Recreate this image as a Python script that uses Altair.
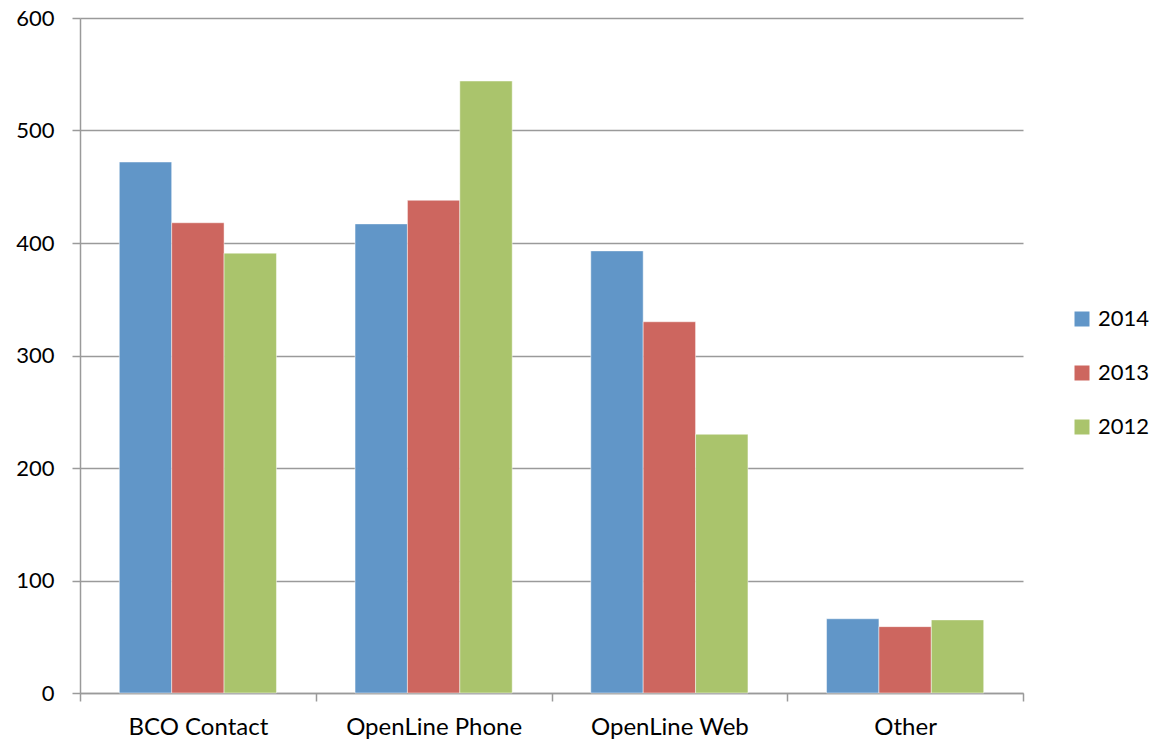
import altair as alt
import pandas as pd

# Request counts by channel and year
channels = ["BCO Contact", "OpenLine Phone", "OpenLine Web", "Other"]
years = ["2014", "2013", "2012"]
values_2014 = [472, 417, 393, 66]
values_2013 = [418, 438, 330, 59]
values_2012 = [391, 544, 230, 65]
y_ticks = [0, 100, 200, 300, 400, 500, 600]
colors = ["#6196C8", "#CD665F", "#AAC46C"]

rows = []
for year, vals in zip(years, [values_2014, values_2013, values_2012]):
    for ch, v in zip(channels, vals):
        rows.append({"channel": ch, "year": year, "count": v})
df = pd.DataFrame(rows)

FONT = "Lato"
GREY = "#9A9A9A"

chart = (
    alt.Chart(df)
    .mark_bar(stroke="white", strokeWidth=0.8, strokeOpacity=0.6)
    .encode(
        x=alt.X(
            "channel:N",
            sort=channels,
            title=None,
            scale=alt.Scale(paddingInner=0, paddingOuter=0),
            axis=alt.Axis(
                labelAngle=0,
                labelFont=FONT,
                labelFontSize=24,
                labelColor="black",
                labelPadding=14,
                domainColor=GREY,
                domainWidth=1.5,
                ticks=True,
                tickColor=GREY,
                tickWidth=1.5,
                tickSize=8,
                tickBand="extent",
                grid=False,
            ),
        ),
        # three bars per group, with a 1.5-bar gap between groups
        xOffset=alt.XOffset(
            "year:N",
            sort=years,
            scale=alt.Scale(paddingInner=0, paddingOuter=0.75),
        ),
        y=alt.Y(
            "count:Q",
            title=None,
            scale=alt.Scale(domain=[0, 600], nice=False),
            axis=alt.Axis(
                values=y_ticks,
                labelFont=FONT,
                labelFontSize=22,
                labelColor="black",
                labelPadding=18,
                domainColor=GREY,
                domainWidth=1.5,
                ticks=True,
                tickColor=GREY,
                tickWidth=1.5,
                tickSize=8,
                gridColor=GREY,
                gridWidth=1.5,
            ),
        ),
        color=alt.Color(
            "year:N",
            sort=years,
            scale=alt.Scale(domain=years, range=colors),
            legend=alt.Legend(
                title=None,
                orient="none",
                legendX=991,
                legendY=290,
                symbolType="square",
                symbolSize=225,
                symbolStrokeWidth=0,
                labelFont=FONT,
                labelFontSize=22,
                labelColor="black",
                labelOffset=5,
                rowPadding=32,
            ),
        ),
    )
    .properties(
        width=943,
        height=675,
        padding={"left": 80, "top": 18, "right": 128, "bottom": 49},
        autosize=alt.AutoSizeParams(type="none"),
    )
    .configure(background="white")
    .configure_view(stroke=None)
)

chart.save("out.html", embed_options={"renderer": "svg", "actions": False})
